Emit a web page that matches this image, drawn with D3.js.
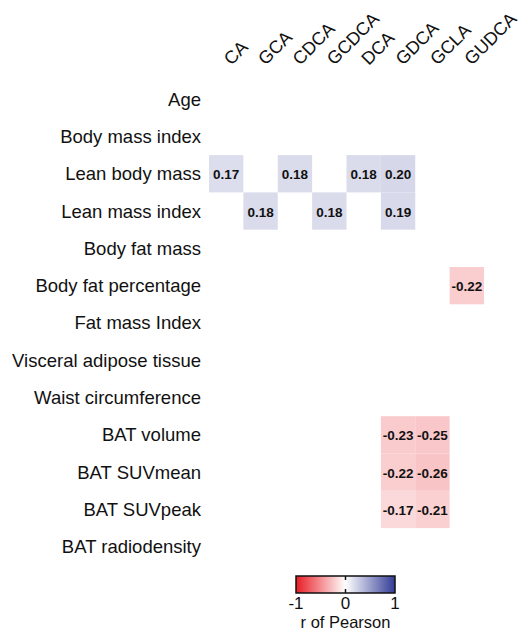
<!DOCTYPE html>
<html><head><meta charset="utf-8">
<script src="https://cdn.jsdelivr.net/npm/d3@7"></script>
<style>body{margin:0;background:#fff}svg{display:block}text{font-family:Arial,"Liberation Sans",sans-serif}</style>
</head><body>
<svg id="c" width="520" height="633"></svg>
<script>
const columns = ["CA","GCA","CDCA","GCDCA","DCA","GDCA","GCLA","GUDCA"];
const rows = ["Age","Body mass index","Lean body mass","Lean mass index","Body fat mass","Body fat percentage","Fat mass Index","Visceral adipose tissue","Waist circumference","BAT volume","BAT SUVmean","BAT SUVpeak","BAT radiodensity"];
// significant correlations: [row, column, r]
const cellRows = ["Lean body mass","Lean body mass","Lean body mass","Lean body mass","Lean mass index","Lean mass index","Lean mass index","Body fat percentage","BAT volume","BAT volume","BAT SUVmean","BAT SUVmean","BAT SUVpeak","BAT SUVpeak"];
const cellCols = ["CA","CDCA","DCA","GDCA","GCA","GCDCA","GDCA","GUDCA","GDCA","GCLA","GDCA","GCLA","GDCA","GCLA"];
const cellVals = [0.17,0.18,0.18,0.20,0.18,0.18,0.19,-0.22,-0.23,-0.25,-0.22,-0.26,-0.17,-0.21];
const legendTicks = [-1,0,1];

const svg = d3.select("#c");
const x = d3.scaleBand().domain(columns).range([209, 484]);
const y = d3.scaleBand().domain(rows).range([80.5, 80.5 + 37.3*13]);
const color = d3.scaleLinear().domain([-1,0,1]).range(["#e81d25","#ffffff","#323c96"]).interpolate(d3.interpolateRgb);
const fmt = v => d3.format(".2f")(v).replace("\u2212","-");

const cells = cellVals.map((v,i)=>({r:cellRows[i], c:cellCols[i], v}));
svg.append("g").selectAll("rect").data(cells).join("rect")
  .attr("x", d=>x(d.c)).attr("y", d=>y(d.r))
  .attr("width", x.bandwidth()).attr("height", y.bandwidth())
  .attr("fill", d=>color(d.v));
svg.append("g").selectAll("text").data(cells).join("text")
  .attr("x", d=>x(d.c)+x.bandwidth()/2).attr("y", d=>y(d.r)+y.bandwidth()/2+1)
  .attr("text-anchor","middle").attr("dominant-baseline","central")
  .attr("font-size","13.5px").attr("font-weight","bold").attr("fill","#111")
  .text(d=>fmt(d.v));

// row labels
svg.append("g").selectAll("text").data(rows).join("text")
  .attr("x", 201).attr("y", d=>y(d)+y.bandwidth()/2)
  .attr("text-anchor","end").attr("dominant-baseline","central")
  .attr("font-size","18.5px").attr("fill","#111").text(d=>d);

// column labels
svg.append("g").selectAll("text").data(columns).join("text")
  .attr("transform", d=>`translate(${x(d)+x.bandwidth()/2+5},${66}) rotate(-45)`)
  .attr("text-anchor","start").attr("font-size","18px").attr("fill","#111").text(d=>d);

// legend
const defs = svg.append("defs");
const grad = defs.append("linearGradient").attr("id","lg");
d3.range(0,1.0001,0.1).forEach(t=>{
  grad.append("stop").attr("offset", t).attr("stop-color", color(-1+2*t));
});
const lx = d3.scaleLinear().domain([-1,1]).range([296,395]);
svg.append("rect").attr("x",296).attr("y",576).attr("width",99).attr("height",17)
  .attr("fill","url(#lg)").attr("stroke","#111").attr("stroke-width",1.5);
svg.append("line").attr("x1",lx(0)).attr("x2",lx(0)).attr("y1",576).attr("y2",580).attr("stroke","#111").attr("stroke-width",1.5);
svg.append("line").attr("x1",lx(0)).attr("x2",lx(0)).attr("y1",589).attr("y2",593).attr("stroke","#111").attr("stroke-width",1.5);
svg.append("g").selectAll("text").data(legendTicks).join("text")
  .attr("x", d=>lx(d)).attr("y", 609).attr("text-anchor","middle")
  .attr("font-size","17px").attr("fill","#111").text(d=>d===-1?"-1":d);
svg.append("text").attr("x", lx(0)).attr("y", 628).attr("text-anchor","middle")
  .attr("font-size","16.5px").attr("fill","#111").text("r of Pearson");
</script>
</body></html>
